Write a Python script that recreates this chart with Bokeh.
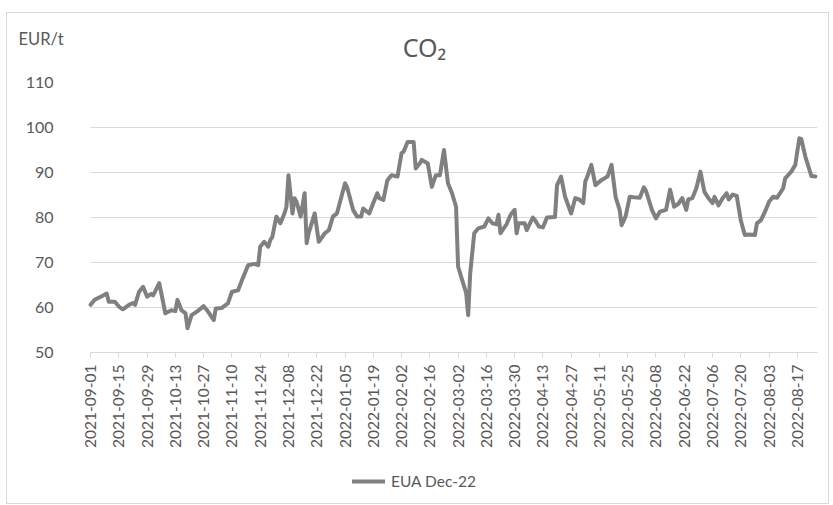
import math
import pandas as pd
from bokeh.plotting import figure
from bokeh.models import (Range1d, FixedTicker, Label, Legend, LegendItem, Grid,
                          ColumnDataSource, DatetimeTickFormatter)
from bokeh.embed import file_html
from bokeh.resources import INLINE

# ---------------- data ----------------
dates = [
    "2021-09-01", "2021-09-03", "2021-09-06", "2021-09-09", "2021-09-10", "2021-09-13",
    "2021-09-15", "2021-09-17", "2021-09-20", "2021-09-22", "2021-09-23", "2021-09-25",
    "2021-09-27", "2021-09-29", "2021-10-01", "2021-10-02", "2021-10-05", "2021-10-07",
    "2021-10-08", "2021-10-11", "2021-10-13", "2021-10-14", "2021-10-16", "2021-10-18",
    "2021-10-19", "2021-10-21", "2021-10-24", "2021-10-27", "2021-10-29", "2021-11-01",
    "2021-11-02", "2021-11-05", "2021-11-08", "2021-11-10", "2021-11-13", "2021-11-15",
    "2021-11-18", "2021-11-21", "2021-11-23", "2021-11-24", "2021-11-26", "2021-11-28",
    "2021-11-29", "2021-11-30", "2021-12-02", "2021-12-04", "2021-12-06", "2021-12-07",
    "2021-12-08", "2021-12-10", "2021-12-11", "2021-12-12", "2021-12-14", "2021-12-16",
    "2021-12-17", "2021-12-18", "2021-12-21", "2021-12-23", "2021-12-26", "2021-12-28",
    "2021-12-30", "2022-01-01", "2022-01-05", "2022-01-06", "2022-01-09", "2022-01-11",
    "2022-01-13", "2022-01-14", "2022-01-17", "2022-01-19", "2022-01-21", "2022-01-22",
    "2022-01-24", "2022-01-26", "2022-01-28", "2022-01-31", "2022-02-02", "2022-02-03",
    "2022-02-05", "2022-02-08", "2022-02-09", "2022-02-11", "2022-02-12", "2022-02-15",
    "2022-02-17", "2022-02-19", "2022-02-21", "2022-02-23", "2022-02-25", "2022-02-27",
    "2022-03-01", "2022-03-02", "2022-03-03", "2022-03-06", "2022-03-07", "2022-03-08",
    "2022-03-10", "2022-03-12", "2022-03-15", "2022-03-17", "2022-03-19", "2022-03-21",
    "2022-03-22", "2022-03-23", "2022-03-26", "2022-03-28", "2022-03-30", "2022-03-31",
    "2022-04-01", "2022-04-04", "2022-04-05", "2022-04-08", "2022-04-09", "2022-04-11",
    "2022-04-13", "2022-04-15", "2022-04-19", "2022-04-20", "2022-04-22", "2022-04-24",
    "2022-04-27", "2022-04-29", "2022-05-01", "2022-05-03", "2022-05-04", "2022-05-05",
    "2022-05-07", "2022-05-09", "2022-05-12", "2022-05-15", "2022-05-17", "2022-05-19",
    "2022-05-21", "2022-05-22", "2022-05-24", "2022-05-26", "2022-05-28", "2022-05-31",
    "2022-06-02", "2022-06-03", "2022-06-06", "2022-06-08", "2022-06-10", "2022-06-13",
    "2022-06-15", "2022-06-17", "2022-06-19", "2022-06-21", "2022-06-23", "2022-06-24",
    "2022-06-26", "2022-06-28", "2022-06-30", "2022-07-02", "2022-07-04", "2022-07-06",
    "2022-07-07", "2022-07-09", "2022-07-11", "2022-07-13", "2022-07-14", "2022-07-16",
    "2022-07-18", "2022-07-20", "2022-07-22", "2022-07-24", "2022-07-27", "2022-07-28",
    "2022-07-30", "2022-08-01", "2022-08-03", "2022-08-05", "2022-08-07", "2022-08-10",
    "2022-08-11", "2022-08-14", "2022-08-16", "2022-08-18", "2022-08-19", "2022-08-21",
    "2022-08-24", "2022-08-26",
]

prices = [
    60.6, 61.7, 62.4, 63.1, 61.3, 61.3,
    60.2, 59.6, 60.6, 61.0, 60.6, 63.5,
    64.6, 62.4, 63.0, 62.7, 65.4, 61.0,
    58.7, 59.4, 59.2, 61.7, 59.4, 58.7,
    55.4, 58.3, 59.2, 60.3, 59.2, 57.2,
    59.8, 59.9, 60.9, 63.5, 63.8, 66.1,
    69.4, 69.7, 69.4, 73.5, 74.6, 73.5,
    75.0, 75.7, 80.2, 78.7, 80.9, 82.4,
    89.4, 80.9, 84.3, 83.5, 80.2, 85.4,
    74.3, 76.5, 80.9, 74.6, 76.5, 77.2,
    80.2, 80.9, 87.6, 86.8, 81.7, 80.2,
    80.2, 82.0, 80.9, 83.2, 85.4, 84.3,
    83.9, 88.3, 89.4, 89.1, 94.3, 94.6,
    96.8, 96.8, 90.9, 92.0, 92.8, 92.0,
    86.8, 89.4, 89.4, 95.0, 87.6, 85.4,
    82.4, 69.1, 67.6, 63.2, 58.3, 67.6,
    76.5, 77.6, 78.0, 79.8, 78.7, 78.5,
    80.6, 76.5, 78.5, 80.6, 81.7, 76.5,
    78.7, 78.7, 77.2, 80.0, 79.5, 78.0,
    77.8, 80.0, 80.1, 87.2, 89.1, 84.6,
    80.9, 84.3, 84.0, 83.2, 88.0, 89.1,
    91.7, 87.2, 88.3, 89.1, 91.7, 84.6,
    81.7, 78.3, 80.3, 84.6, 84.5, 84.4,
    86.7, 86.0, 81.7, 79.8, 81.3, 81.7,
    86.2, 82.4, 83.0, 84.3, 81.7, 84.0,
    84.3, 86.5, 90.2, 85.7, 84.3, 83.2,
    84.6, 82.7, 84.3, 85.4, 84.0, 85.1,
    84.8, 79.4, 76.1, 76.2, 76.1, 78.7,
    79.4, 81.3, 83.5, 84.6, 84.4, 86.5,
    88.7, 90.2, 91.7, 97.6, 97.4, 93.5,
    89.2, 89.1,
]

tick_labels = [
    "2021-09-01", "2021-09-15", "2021-09-29", "2021-10-13", "2021-10-27", "2021-11-10",
    "2021-11-24", "2021-12-08", "2021-12-22", "2022-01-05", "2022-01-19", "2022-02-02",
    "2022-02-16", "2022-03-02", "2022-03-16", "2022-03-30", "2022-04-13", "2022-04-27",
    "2022-05-11", "2022-05-25", "2022-06-08", "2022-06-22", "2022-07-06", "2022-07-20",
    "2022-08-03", "2022-08-17",
]
y_ticks = [50, 60, 70, 80, 90, 100, 110]
axis_start, axis_end = "2021-09-01", "2022-08-27"
series_name = "EUA Dec-22"
chart_title = "CO\u2082"
unit_label = "EUR/t"

# ---------------- chart ----------------
FONT = "Lato"
TXT = "#595959"
GRID = "#d9d9d9"

PLOT_H = 270                 # pixel height of the 50..110 value band
FRAME_H = 421                # frame also holds the date labels and the legend
PAD_DAYS = 5                 # room left of the first date so its label is not clipped
y_lo = y_ticks[-1] - (y_ticks[-1] - y_ticks[0]) * FRAME_H / PLOT_H

src = ColumnDataSource(dict(date=pd.to_datetime(dates), price=prices))
tick_ms = [pd.Timestamp(t).value // 10**6 for t in tick_labels]
start_ms = pd.Timestamp(axis_start).value // 10**6
end_ms = pd.Timestamp(axis_end).value // 10**6

p = figure(x_axis_type="datetime", output_backend="svg", toolbar_location=None,
           frame_width=737, frame_height=FRAME_H,
           min_border_left=73, min_border_right=11, min_border_top=69, min_border_bottom=0,
           x_range=Range1d(pd.Timestamp(axis_start) - pd.Timedelta(days=PAD_DAYS),
                           pd.Timestamp(axis_end)),
           y_range=Range1d(y_lo, y_ticks[-1]))
p.outline_line_color = None
p.background_fill_color = "white"
p.border_fill_color = "white"
p.styles = {"border": "1px solid #d9d9d9", "margin-left": "6px", "margin-top": "12px"}

r = p.line("date", "price", source=src, line_color="#808080", line_width=4,
           line_join="round", line_cap="round")

# grids
p.xgrid.grid_line_color = None
yg = p.ygrid[0]
yg.grid_line_color = GRID
yg.grid_line_width = 1
yg.ticker = FixedTicker(ticks=y_ticks)
if "cross_bounds" in Grid.properties():
    yg.cross_bounds = (start_ms, end_ms)

# y axis
ya = p.yaxis[0]
ya.ticker = FixedTicker(ticks=y_ticks)
ya.axis_line_color = None
ya.major_tick_line_color = None
ya.minor_tick_line_color = None
ya.major_tick_out = 0
ya.major_tick_in = 0
ya.major_label_standoff = 27
ya.major_label_text_font = FONT
ya.major_label_text_font_size = "16px"
ya.major_label_text_color = TXT

# x axis, drawn at the value 50
xa = p.xaxis[0]
xa.fixed_location = y_ticks[0]
xa.bounds = (start_ms, end_ms)
xa.ticker = FixedTicker(ticks=tick_ms)
fmt = "%Y-%m-%d"
xa.formatter = DatetimeTickFormatter(milliseconds=fmt, seconds=fmt, minsec=fmt, minutes=fmt,
                                     hourmin=fmt, hours=fmt, days=fmt, months=fmt, years=fmt)
xa.axis_line_color = GRID
xa.major_tick_line_color = GRID
xa.minor_tick_line_color = None
xa.major_tick_out = 5
xa.major_tick_in = 0
xa.major_label_orientation = math.pi / 2
xa.major_label_standoff = 7
xa.major_label_text_font = FONT
xa.major_label_text_font_size = "15.5px"
xa.major_label_text_color = TXT

# title and unit label in the panel above the frame
p.add_layout(Label(x=344, y=36, x_units="screen", y_units="screen", text=chart_title,
                   text_font="Noto Sans", text_font_size="25px", text_color=TXT,
                   text_baseline="middle", text_align="center"), "above")
p.add_layout(Label(x=-62, y=10, x_units="screen", y_units="screen", text=unit_label,
                   text_font=FONT, text_font_size="16.5px", text_color=TXT,
                   text_baseline="middle", text_align="left"), "above")

legend = Legend(items=[LegendItem(label=series_name, renderers=[r])],
                location=(272, 12), orientation="horizontal",
                border_line_color=None, background_fill_alpha=0,
                label_text_font=FONT, label_text_font_size="15.5px",
                label_text_color=TXT, glyph_width=33, label_standoff=6,
                padding=0, margin=0)
p.add_layout(legend, "center")

open("out.html", "w").write(file_html(p, INLINE))
